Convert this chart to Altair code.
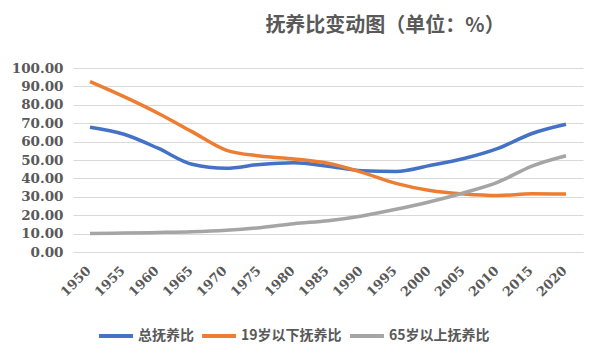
import altair as alt
import pandas as pd

years = [str(y) for y in range(1950, 2021, 5)]
total = [67.8, 64.0, 56.4, 47.7, 45.5, 47.6, 48.5, 46.6, 44.2, 43.8, 47.0, 50.8, 56.3, 64.4, 69.4]
young = [92.6, 84.4, 75.4, 65.4, 55.4, 52.2, 50.6, 48.2, 43.3, 37.3, 33.4, 31.5, 30.7, 31.6, 31.5]
old = [10.1, 10.3, 10.6, 11.0, 11.8, 13.2, 15.4, 17.0, 19.6, 23.2, 27.3, 32.2, 38.0, 46.7, 52.3]
series_names = ["总抚养比", "19岁以下抚养比", "65岁以上抚养比"]
colors = ["#4472C4", "#ED7D31", "#A5A5A5"]

rows = []
for name, vals in zip(series_names, [total, young, old]):
    for y, v in zip(years, vals):
        rows.append({"year": y, "value": v, "series": name})
df = pd.DataFrame(rows)

serif = "DejaVu Serif"
cjk = "Noto Sans CJK SC"

chart = alt.Chart(df).mark_line(strokeWidth=3.5, interpolate="monotone").encode(
    x=alt.X("year:O", sort=years, title=None,
            scale=alt.Scale(type="point", padding=0.5),
            axis=alt.Axis(labelAngle=-45, labelFont=serif, labelFontWeight="bold",
                          labelFontSize=13, labelColor="#595959", ticks=False,
                          domainColor="#d9d9d9", labelPadding=12, labelOffset=-6,
                          grid=False)),
    y=alt.Y("value:Q", title=None,
            scale=alt.Scale(domain=[0, 100], nice=False),
            axis=alt.Axis(values=list(range(0, 101, 10)), format=".2f",
                          labelFont=serif, labelFontWeight="bold", labelFontSize=13.5,
                          labelColor="#595959", ticks=False, domain=False,
                          gridColor="#d9d9d9", labelPadding=10)),
    color=alt.Color("series:N", sort=series_names,
                    scale=alt.Scale(domain=series_names, range=colors),
                    legend=alt.Legend(title=None, orient="none", direction="horizontal",
                                      legendX=24, legendY=249,
                                      symbolType="stroke", symbolSize=1150,
                                      symbolStrokeWidth=4, labelFont=cjk,
                                      labelFontWeight="bold", labelFontSize=14,
                                      labelColor="#595959", columnPadding=0,
                                      labelOffset=3)),
).properties(
    width=510, height=184,
    autosize=alt.AutoSizeParams(type="none"),
    padding={"left": 65, "top": 60, "right": 11, "bottom": 102},
    title=alt.TitleParams("抚养比变动图（单位：%）", font=cjk, fontSize=20,
                          fontWeight="bold", color="#595959", anchor="middle",
                          dx=57, offset=25),
).configure_view(stroke=None)

chart.save("out.html", embed_options={"renderer": "svg", "actions": False})
